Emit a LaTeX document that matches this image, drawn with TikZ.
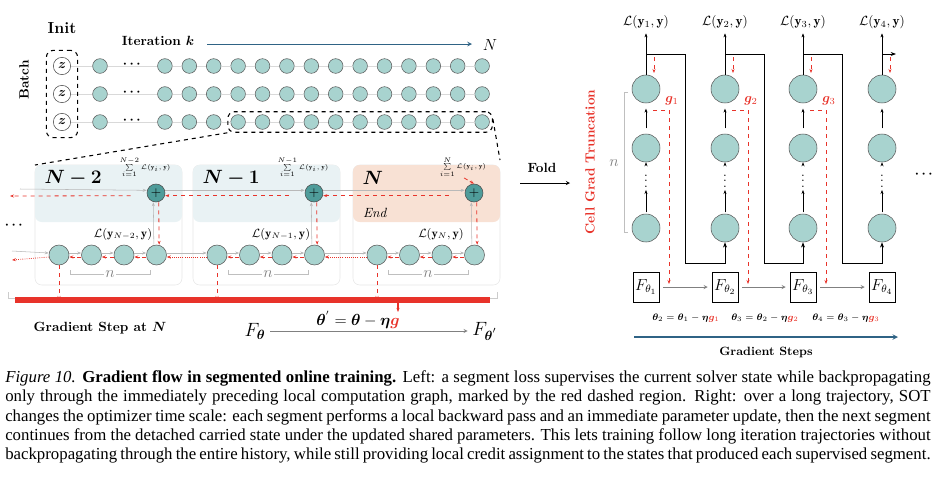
\documentclass[tikz,border=0pt]{standalone}
\usepackage{amsmath,bm}
\usepackage{fontspec}
\newfontfamily\capfont{Liberation Serif}
\usetikzlibrary{positioning,calc,fit,arrows.meta}
\definecolor{cellfill}{HTML}{A8D3CF}
\definecolor{plusfill}{HTML}{4F9C9A}
\definecolor{stepblue}{HTML}{2F6385}
\definecolor{gradred}{HTML}{E8332A}
\definecolor{segblue}{HTML}{E9F2F4}
\definecolor{segpeach}{HTML}{F8E1D4}

\begin{document}
\begin{tikzpicture}[x=0.75pt,y=-0.75pt,
  cell/.style={circle,draw=gray!70!black,fill=cellfill,minimum size=11pt,inner sep=0pt},
  bigcell/.style={cell,minimum size=21pt},
  zcell/.style={circle,draw=black!70,fill=white,minimum size=13pt,inner sep=0pt},
  plus/.style={circle,draw=black!70,fill=plusfill,minimum size=13.5pt,inner sep=0pt},
  fwd/.style={-{Stealth[length=3pt]},gray!55},
  bwd/.style={-{Stealth[length=3pt]},gradred,dashed,semithick},
  >=stealth,
  every node/.append style={align=center}]
\useasboundingbox (0,0) rectangle (936,494);

%Init and batch rows
\node (init) at (62,28) {\large\textbf{Init}};
\node[rotate=90] (batch) at (24,80) {\textbf{Batch}};
\node (iter) at (158,41) {\textbf{Iteration $\bm k$}};
\node (bigN) at (490,45) {\large$N$};
\coordinate (itS) at (207,44);
\coordinate (itE) at (472,44);
\draw[->,stepblue,semithick] (itS) -- (itE);
\foreach \r/\yy in {1/66,2/94,3/122}{
  \node[zcell] (z\r) at (62,\yy) {$\bm z$};
  \node[cell] (c\r-0) at (100,\yy) {};
  \node (dots\r) at (133,\yy-2) {$\bm\cdots$};
  \foreach \i in {1,...,14}{\node[cell] (c\r-\i) at ({140.5+24.4*\i},\yy) {};}
  \draw[gray!30] (z\r) -- (c\r-0) -- (dots\r.east |- c\r-0) (c\r-0 -| dots\r.east) -- (c\r-1);
  \foreach \i [count=\j from 2] in {1,...,13}{\draw[gray!30] (c\r-\i) -- (c\r-\j);}
}
\node[draw,dashed,rounded corners=5pt,thick,fit=(z1)(z3),inner sep=5pt] (initbox) {};
\node[draw,dashed,rounded corners=5pt,thick,fit=(c3-4)(c3-14),inner sep=2pt] (trunc) {};

%segments
\foreach \s/\x/\lab/\col in {1/35/N-2/segblue,2/193/N-1/segblue,3/353/N/segpeach}{
  \draw[gray!20,rounded corners=5pt] (\x,165) rectangle (\x+147,285);
  \fill[\col,rounded corners=5pt] (\x,165) rectangle (\x+147,222);
  \node[anchor=west] (lab\s) at (\x+5,178) {\Large$\bm{\lab}$};
  \node[plus] (p\s) at (\x+121,193) {$+$};
  \node[font=\tiny,inner sep=0pt] (sum\s) at (\x+110,167) {$\sum\limits_{i=1}^{\lab}\mathcal{L}(\mathbf{y}_i,\mathbf{y})$};
  \node[font=\small] (loss\s) at (\x+88,234) {$\mathcal{L}(\mathbf{y}_{\lab},\mathbf{y})$};
  \foreach \i in {0,...,3}{\node[cell,minimum size=15pt] (m\s-\i) at (\x+24+32.5*\i,255) {};}
  \foreach \i [count=\j from 1] in {0,1,2}{
    \draw[fwd] ([yshift=1.5pt]m\s-\i.east) -- ([yshift=1.5pt]m\s-\j.west);
    \draw[bwd,densely dashed] ([yshift=-1.5pt]m\s-\j.west) -- ([yshift=-1.5pt]m\s-\i.east);
  }
  \draw[fwd] ([xshift=-2pt]m\s-3.north) -- ([xshift=-2pt]p\s.south);
  \draw[bwd] ([xshift=2pt]p\s.south) -- ([xshift=2pt]m\s-3.north);
  \coordinate (nl\s) at (\x+35,270);
  \coordinate (nr\s) at (\x+115,270);
  \draw[gray!50] (nl\s) -- ++(0,4) -- node[fill=white,inner sep=1pt,text=gray]{\large$n$} ($(nr\s)+(0,4)$) -- (nr\s);
}
\node (mdots) at (15,225) {$\bm\cdots$};
\node (End) at (375,213) {\textit{End}};
\draw[bwd,densely dashed,shorten <=1pt] (sum3.south) -- (p3.north);
% zoom lines
\draw[dashed,thick] (trunc.south west) -- (35,165);
\draw[dashed,thick] (trunc.north east) ++(0,8) -- (500,160);

% plus chain
\coordinate (pin) at (20,189);
\coordinate (pout) at (10,196);
\draw[fwd] (pin) -- ([yshift=2pt]p1.west);
\draw[fwd] ([yshift=2pt]p1.east) -- ([yshift=2pt]p2.west);
\draw[fwd] ([yshift=2pt]p2.east) -- ([yshift=2pt]p3.west);
\draw[bwd,shorten <=12pt] ([yshift=-2pt]p3.west) -- ([yshift=-2pt]p2.east);
\draw[bwd,shorten <=12pt] ([yshift=-2pt]p2.west) -- ([yshift=-2pt]p1.east);
\draw[bwd,shorten <=12pt] ([yshift=-2pt]p1.west) -- (pout);
% cell chain
\coordinate (min) at (12,253);
\coordinate (mout) at (12,258);
\draw[fwd] ([yshift=1.5pt]min) -- ([yshift=1.5pt]m1-0.west);
\draw[bwd,densely dotted] ([yshift=-1.5pt]m1-0.west) -- ([yshift=-1.5pt]mout);
\draw[fwd] ([yshift=1.5pt]m1-3.east) -- ([yshift=1.5pt]m2-0.west);
\draw[bwd,densely dotted] ([yshift=-1.5pt]m2-0.west) -- ([yshift=-1.5pt]m1-3.east);
\draw[fwd] ([yshift=1.5pt]m2-3.east) -- ([yshift=1.5pt]m3-0.west);
\draw[bwd,densely dotted] ([yshift=-1.5pt]m3-0.west) -- ([yshift=-1.5pt]m2-3.east);

% gradient bar
\coordinate (barL) at (15,300);
\coordinate (barR) at (490,300);
\draw[gray!40] (8,292) -- (8,298) (8,298) -- (497,298) -- (497,292);
\draw[gradred,line width=4pt] (barL) -- (barR);
\foreach \s in {1,2,3}{\draw[bwd] (m\s-0.south) -- (m\s-0 |- barL);}
\node (upd) at (358,320) {\large$\bm{\theta}^{'}=\bm{\theta}-\bm{\eta}\textcolor{gradred}{\bm g}$};
\coordinate (barU) at (398,301);
\draw[-{Stealth[length=3pt]},gradred,thick] (barU) -- ++(0,11);
\node (gstep) at (100,328) {\textbf{Gradient Step at $\bm N$}};
\node (Fth) at (255,331) {\Large$F_{\bm\theta}$};
\node (Fthp) at (485,331) {\Large$F_{\bm\theta^{'}}$};
\draw[->,gray] (Fth) -- (Fthp);

% fold
\node (fold) at (542,168) {\textbf{Fold}};
\coordinate (foldL) at (520,183);
\coordinate (foldR) at (570,183);
\draw[->] (foldL) -- (foldR);

% unrolled columns
\node[rotate=90,text=gradred] (cgt) at (590,162) {\textbf{Cell Grad Truncation}};
\node[text=gray] (nn) at (614,163) {\large$n$};
\draw[gray!50] (628,92) -- (624,92) -- (624,232) -- (628,232);
\foreach \c/\x in {1/646,2/725,3/803,4/882}{
  \node[bigcell] (r\c-1) at (\x,89) {};
  \node[bigcell] (r\c-2) at (\x,148) {};
  \node[inner sep=1pt] (vd\c) at (\x,177) {$\vdots$};
  \node[bigcell] (r\c-3) at (\x,228) {};
  \node (L\c) at (\x,22) {$\mathcal{L}(\mathbf{y}_{\c},\mathbf{y})$};
  \node[draw,minimum width=19.5pt,minimum height=22.5pt,inner sep=1pt] (F\c) at (\x,287) {\large$F_{\theta_{\c}}$};
  \draw[-{Stealth[length=3pt]}] (r\c-1.north) -- (L\c.south);
  \draw[-{Stealth[length=3pt]},shorten <=4pt,shorten >=4pt] (r\c-2) -- (r\c-1);
  \draw[-{Stealth[length=3pt]},shorten <=1pt] (vd\c) -- (r\c-2);
  \draw[-{Stealth[length=3pt]},shorten >=1pt,shorten <=1pt] (r\c-3) -- (vd\c);
  \coordinate (s\c) at (\x,54);
  \draw[bwd] (\x+8,57) -- (\x+8,73);
}
\foreach \c/\x [count=\n from 2] in {1/646,2/725,3/803}{
  \draw[semithick,-{Stealth[length=4pt]}] (s\c) -- (\x+39,54) -- (\x+39,263) -- (r\n-3 |- 0,263) -- (r\n-3.south);
  \node[text=gradred] (g\c) at (\x+26,101) {$\bm g_{\c}$};
  \draw[bwd] (\x+7,110) -| (\x+23,284);
  \draw[->,gray] (F\c.east) ++(3pt,0) -- ([xshift=-3pt]F\n.west);
}
\draw[semithick,-{Stealth[length=4pt]}] (s4) -- ++(14,0) coordinate (s5);
\node (rdots) at (925,174) {$\bm\cdots$};
\node[font=\scriptsize] (eq1) at (686,318) {$\bm\theta_2=\bm\theta_1-\bm\eta\textcolor{gradred}{\bm g_1}$};
\node[font=\scriptsize] (eq2) at (765,318) {$\bm\theta_3=\bm\theta_2-\bm\eta\textcolor{gradred}{\bm g_2}$};
\node[font=\scriptsize] (eq3) at (846,318) {$\bm\theta_4=\bm\theta_3-\bm\eta\textcolor{gradred}{\bm g_3}$};
\coordinate (gsL) at (634,337);
\coordinate (gsR) at (898,337);
\draw[->,stepblue,thick] (gsL) -- (gsR);
\node (gsteps) at (766,352) {\small\textbf{Gradient Steps}};

% caption
\node[text width=694pt,align=justify,inner sep=0pt,anchor=north west,font=\capfont\fontsize{12.6}{14.6}\selectfont] (caption) at (5,370) {\textit{Figure 10.} \textbf{Gradient flow in segmented online training.} Left: a segment loss supervises the current solver state while backpropagating only through the immediately preceding local computation graph, marked by the red dashed region. Right: over a long trajectory, SOT changes the optimizer time scale: each segment performs a local backward pass and an immediate parameter update, then the next segment continues from the detached carried state under the updated shared parameters. This lets training follow long iteration trajectories without backpropagating through the entire history, while still providing local credit assignment to the states that produced each supervised segment.};
\end{tikzpicture}
\end{document}
